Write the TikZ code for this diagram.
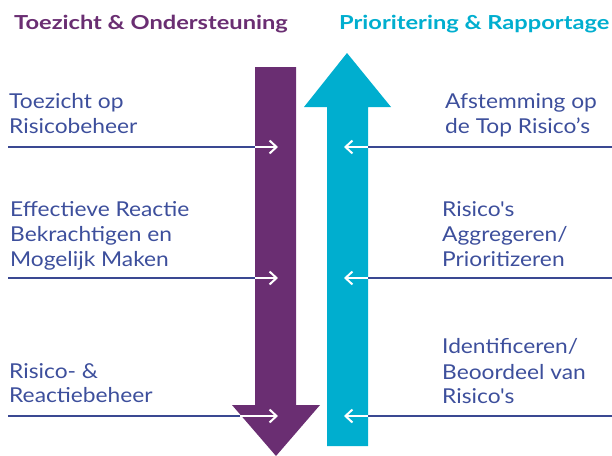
\documentclass[tikz,border=0pt]{standalone}
\usepackage{fontspec}
\setmainfont{Lato}
\newfontfamily\bodyfont[FakeStretch=1.11]{Lato}
\newfontfamily\titlefont[FakeStretch=1.225]{Lato}
\usetikzlibrary{arrows.meta}
\definecolor{tpurple}{HTML}{6A2E72}
\definecolor{tcyan}{HTML}{00AECF}
\definecolor{tnavy}{HTML}{3D4F9C}
\definecolor{tline}{HTML}{3A4892}
\begin{document}
\begin{tikzpicture}[x=1pt,y=-1pt,
  body/.style={anchor=base west,inner sep=0pt,text=tnavy,font=\bodyfont\fontsize{20.5}{24}\selectfont},
  title/.style={anchor=base west,inner sep=0pt,font=\titlefont\fontsize{19.3}{22}\selectfont\bfseries},
  rule/.style={draw=tline,line width=2.6pt},
  tip/.style={draw=white,line width=2pt,-{Straight Barb[length=7pt,width=13pt]}}]
\useasboundingbox (0,0) rectangle (612,455);
% arrows
\fill[tpurple] (255,67) -- (296,67) -- (296,405) -- (320,405) -- (276,456) -- (232,405) -- (255,405) -- cycle;
\fill[tcyan] (327,446) -- (327,107) -- (304,107) -- (347,53) -- (391,107) -- (368,107) -- (368,446) -- cycle;
% titles
\node[title,text=tpurple] (t1) at (14,29) {Toezicht \& Ondersteuning};
\node[title,text=tcyan] (t2) at (339,29) {Prioritering \& Rapportage};
% left texts
\node[body] (l1a) at (9,108) {Toezicht op};
\node[body] (l1b) at (9,133) {Risicobeheer};
\node[body] (l2a) at (10,216) {Effectieve Reactie};
\node[body] (l2b) at (10,241) {Bekrachtigen en};
\node[body] (l2c) at (10,266) {Mogelijk Maken};
\node[body] (l3a) at (9,378) {Risico- \&};
\node[body] (l3b) at (9,402) {Reactiebeheer};
% right texts
\node[body] (r1a) at (445,108) {Afstemming op};
\node[body] (r1b) at (445,133) {de Top Risico’s};
\node[body] (r2a) at (442,216) {Risico's};
\node[body] (r2b) at (442,241) {Aggregeren/};
\node[body] (r2c) at (442,266) {Prioritizeren};
\node[body] (r3a) at (442,353) {Identificeren/};
\node[body] (r3b) at (442,379) {Beoordeel van};
\node[body] (r3c) at (442,403) {Risico's};
% connector coordinates
\coordinate (a1) at (8,147);   \coordinate (b1) at (255,147); \coordinate (c1) at (278,147);
\coordinate (a2) at (8,278);   \coordinate (b2) at (255,278); \coordinate (c2) at (278,278);
\coordinate (a3) at (8,416);   \coordinate (b3) at (240,416); \coordinate (c3) at (278,416);
\coordinate (d1) at (612,147); \coordinate (e1) at (368,147); \coordinate (f1) at (344,147);
\coordinate (d2) at (612,278); \coordinate (e2) at (368,278); \coordinate (f2) at (344,278);
\coordinate (d3) at (612,416); \coordinate (e3) at (368,416); \coordinate (f3) at (344,416);
\foreach \i in {1,2,3}{
  \draw[rule] (a\i) -- (b\i);
  \draw[tip] (b\i) -- (c\i);
  \draw[rule] (d\i) -- (e\i);
  \draw[tip] (e\i) -- (f\i);
}
\end{tikzpicture}
\end{document}
